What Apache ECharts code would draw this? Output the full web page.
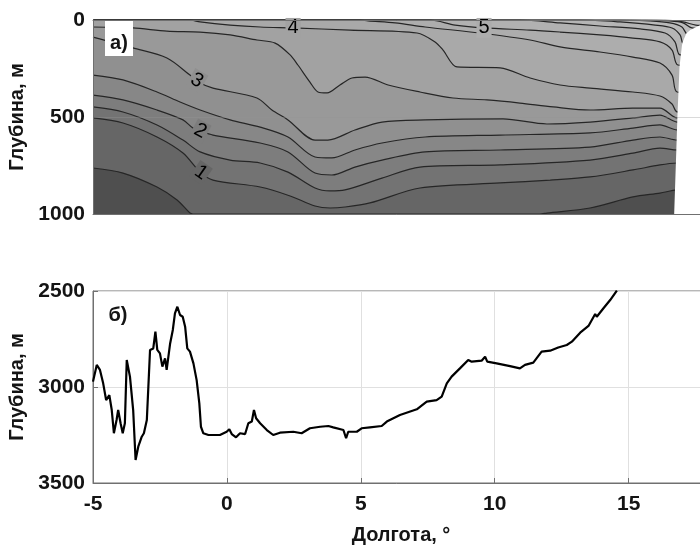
<!DOCTYPE html>
<html>
<head>
<meta charset="utf-8">
<script src="https://cdn.jsdelivr.net/npm/echarts@6/dist/echarts.min.js"></script>
<style>
  html, body { margin: 0; padding: 0; background: #fff; }
  #chart { width: 700px; height: 546px; }
</style>
</head>
<body>
<div id="chart"></div>
<script>
// ---- Temperature section: isotherm depths (m) along longitude (°) ----
const levels = [0.5, 1, 1.5, 2, 2.5, 3, 3.5, 4, 4.5, 5, 5.5, 6, 6.5, 7, 7.5];

const iso05 = [[-5,763],[-3.88,789],[-2.61,861],[-1.86,928],[-1.38,995],[-1.27,1000],[11.69,1000],[11.95,995],[13.56,969],[15.16,912],[16.17,892],[16.81,876],[18,870]];
const iso10 = [[-5,505],[-3.88,531],[-2.61,603],[-1.64,686],[-1.0,784],[-0.52,825],[1.24,861],[2.36,907],[3.29,959],[3.85,969],[4.41,964],[5.34,943],[7.21,866],[10.2,840],[12.07,825],[13.56,809],[15.16,773],[16.17,747],[16.81,737],[18,735]];
const iso15 = [[-5,448],[-3.88,474],[-2.61,541],[-1.64,619],[-1.0,680],[0.12,722],[1.24,737],[2.28,784],[3.29,866],[3.85,881],[4.41,876],[5.79,815],[7.21,758],[10.2,747],[13.56,722],[15.16,686],[16.17,660],[16.81,670],[18,672]];
const iso20 = [[-5,387],[-3.88,412],[-2.61,464],[-1.64,515],[-1.27,557],[-1.0,572],[-0.52,593],[1.24,634],[2.28,680],[3.29,789],[3.92,799],[4.78,758],[5.79,722],[7.4,680],[10.2,670],[13.56,655],[15.16,619],[16.17,603],[16.81,619],[18,620]];
const iso25 = [[-5,284],[-3.88,309],[-2.61,371],[-1.75,423],[-1.0,464],[0.12,515],[1.24,552],[2.28,603],[3.29,706],[3.92,711],[4.78,670],[5.79,634],[7.4,603],[10.2,593],[13.56,582],[15.16,557],[16.17,541],[16.81,567],[18,570]];
const iso30 = [[-5,88],[-3.51,144],[-2.24,196],[-1.38,284],[-1.0,325],[-0.52,351],[1.12,402],[1.68,464],[2.28,515],[3.29,619],[3.77,619],[4.78,567],[5.79,526],[7.4,515],[10.31,510],[11.95,536],[13.56,526],[15.16,505],[16.17,490],[16.81,526],[18,528]];
const iso35 = [[-5,36],[-3.51,41],[-2.24,57],[-1.0,62],[0.12,77],[1.12,103],[1.8,119],[2.36,180],[2.65,232],[3.1,320],[3.4,371],[3.74,376],[4.22,335],[4.67,299],[5.16,294],[6.02,335],[7.21,371],[8.44,402],[9.71,412],[10.94,428],[12.18,448],[13.56,464],[15.16,454],[16.17,454],[16.81,505],[18,507]];
const iso40 = [[-5,0],[-1.38,0],[-1.0,10],[0.12,26],[1.24,36],[2.47,41],[4.6,52],[7.1,67],[7.77,113],[8.07,155],[8.59,242],[10.2,247],[11.32,299],[12.44,335],[13.56,351],[15.16,371],[16.17,392],[16.62,433],[16.81,474],[18,480]];
const iso45 = [[-5,0],[4.97,0],[5.27,5],[6.28,15],[7.4,36],[9.45,67],[11.32,103],[12.44,139],[13.93,165],[15.16,191],[16.17,222],[16.62,284],[16.81,371],[18,380]];
const iso50 = [[-5,0],[7.58,0],[8.52,26],[9.6,41],[11.32,52],[12.44,62],[13.93,77],[15.16,93],[16.17,113],[16.62,155],[16.84,232],[18,240]];
const iso55 = [[-5,0],[10.94,0],[12.44,15],[13.93,31],[15.43,46],[16.36,67],[16.73,113],[16.92,180],[18,185]];
const iso60 = [[-5,0],[13.19,0],[14.68,10],[15.99,26],[16.62,41],[16.92,77],[17.07,129],[18,135]];
const iso65 = [[-5,0],[14.68,0],[15.8,5],[16.54,15],[16.99,36],[17.22,77],[18,80]];
const iso70 = [[-5,0],[15.61,0],[16.54,5],[17.03,15],[17.36,41],[18,45]];
const iso75 = [[-5,0],[16.36,0],[17.03,10],[17.51,26],[18,30]];

const isotherms = [iso05, iso10, iso15, iso20, iso25, iso30, iso35, iso40, iso45, iso50, iso55, iso60, iso65, iso70, iso75];

// Labelled isotherms and where their labels sit (longitude)
const labelLevels = [1, 2, 3, 4, 5];
const labelLon = [-0.97, -1.0, -1.12, 2.47, 9.6];

// Shelf / coast outline closing the section on the east (lon °, depth m)
const coastLon = [17.9, 17.67, 17.3, 17.15, 17.0, 16.9, 16.82, 16.78, 16.7];
const coastDepth = [0, 26, 52, 70, 120, 240, 500, 670, 1000];

// ---- Bottom depth along the section ----
const bathLon = [-5.00,-4.86,-4.74,-4.62,-4.51,-4.47,-4.39,-4.30,-4.22,-4.12,-4.06,-3.97,-3.89,-3.81,-3.74,-3.62,-3.50,-3.41,-3.31,-3.18,-3.10,-2.99,-2.87,-2.75,-2.67,-2.60,-2.50,-2.41,-2.31,-2.25,-2.12,-2.02,-1.94,-1.85,-1.75,-1.65,-1.56,-1.48,-1.38,-1.25,-1.13,-1.03,-0.97,-0.88,-0.69,-0.26,-0.01,0.09,0.18,0.34,0.49,0.68,0.80,0.93,1.01,1.09,1.24,1.49,1.73,1.98,2.48,2.79,3.10,3.48,3.79,3.97,4.35,4.45,4.53,4.60,4.85,5.03,5.34,5.78,5.97,6.46,7.09,7.46,7.83,8.02,8.21,8.39,8.70,9.01,9.14,9.51,9.64,9.72,10.07,10.57,10.94,11.13,11.44,11.75,12.07,12.37,12.69,12.88,13.19,13.50,13.75,13.81,14.06,14.31,14.56];
const bathDepth = [2972,2885,2911,2981,3068,3076,3042,3120,3241,3172,3120,3189,3241,3189,2859,2946,3120,3380,3311,3259,3241,3172,2807,2799,2712,2807,2825,2894,2851,2911,2773,2703,2616,2582,2625,2634,2686,2799,2816,2877,2964,3085,3207,3241,3250,3250,3233,3220,3245,3262,3241,3245,3189,3180,3120,3163,3189,3224,3250,3238,3233,3241,3215,3207,3203,3210,3224,3267,3233,3224,3233,3215,3210,3203,3180,3146,3116,3076,3068,3050,2981,2946,2903,2859,2868,2863,2842,2868,2877,2891,2903,2885,2873,2816,2811,2794,2781,2764,2717,2682,2620,2634,2590,2547,2498];

// ---- Styling ----
const FONT = "'Liberation Sans', Arial, sans-serif";
const frameColor = '#707070';
// fill colour of the band just below (colder than) each isotherm
const bandColors = ['#4f4f4f','#666666','#737373','#7d7d7d','#878787','#909090','#999999','#a2a2a2','#a9a9a9','#adadad','#b1b1b1','#b5b5b5','#b9b9b9','#bdbdbd','#c1c1c1'];
const warmestColor = '#c5c5c5';
const labelRotate = { 1: -35, 2: -28, 3: -30, 4: 0, 5: 0 };

function depthAt(line, lon) {
  for (let k = 1; k < line.length; k++) {
    const a = line[k - 1], b = line[k];
    if (lon >= a[0] && lon <= b[0]) {
      const t = (lon - a[0]) / (b[0] - a[0]);
      return a[1] + t * (b[1] - a[1]);
    }
  }
  return line[line.length - 1][1];
}

const series = [];

// warmest water fills the whole section first
series.push({
  type: 'line', xAxisIndex: 0, yAxisIndex: 0, silent: true, z: 1,
  data: [[-5, 0], [18, 0]], symbol: 'none',
  lineStyle: { width: 0, opacity: 0 },
  areaStyle: { color: warmestColor, opacity: 1, origin: 'end' }
});
// then each colder band, warm to cold, filled from its isotherm to the bottom
for (let i = levels.length - 1; i >= 0; i--) {
  series.push({
    type: 'line', xAxisIndex: 0, yAxisIndex: 0, silent: true, z: 1,
    data: isotherms[i], smooth: 0.3, symbol: 'none',
    lineStyle: { width: 0, opacity: 0 },
    areaStyle: { color: bandColors[i], opacity: 1, origin: 'end' }
  });
}
// isotherm lines
levels.forEach((lv, i) => {
  series.push({
    type: 'line', xAxisIndex: 0, yAxisIndex: 0, silent: true, z: 2,
    data: isotherms[i], smooth: 0.3, symbol: 'none',
    lineStyle: { color: '#262626', width: 1.2 }
  });
});
// isotherm labels
series.push({
  type: 'scatter', xAxisIndex: 0, yAxisIndex: 0, silent: true, z: 3,
  symbolSize: 1, itemStyle: { color: 'rgba(0,0,0,0)' },
  label: { show: true, position: 'inside', fontFamily: FONT, fontSize: 20, color: '#000' },
  data: labelLevels.map((lv, j) => {
    const idx = levels.indexOf(lv);
    return {
      value: [labelLon[j], depthAt(isotherms[idx], labelLon[j])],
      label: {
        show: true, position: 'inside', formatter: String(lv),
        rotate: labelRotate[lv],
        fontFamily: FONT, fontSize: 20, color: '#000', opacity: 1,
        backgroundColor: bandColors[idx], padding: [0, 2, 0, 2]
      }
    };
  })
});
// land / shelf on the eastern end
series.push({
  type: 'custom', xAxisIndex: 0, yAxisIndex: 0, silent: true, z: 5,
  data: [0],
  renderItem: function (params, api) {
    const pts = coastLon.map((lon, k) => api.coord([lon, coastDepth[k]]));
    pts.push(api.coord([22, 1000]), api.coord([22, 0]));
    return { type: 'polygon', shape: { points: pts }, style: { fill: '#ffffff' } };
  }
});
// bottom profile
series.push({
  type: 'line', xAxisIndex: 2, yAxisIndex: 1, silent: true, z: 2,
  data: bathLon.map((lon, k) => [lon, bathDepth[k]]),
  symbol: 'none', lineStyle: { color: '#000', width: 2.2 }
});

const plain = v => String(v);
const tickFont = { fontFamily: FONT, fontSize: 21, fontWeight: 'bold', color: '#141414' };
const nameFont = { fontFamily: FONT, fontSize: 20, fontWeight: 'bold', color: '#141414' };

const option = {
  animation: false,
  backgroundColor: '#fff',
  grid: [
    { left: 93, right: -9, top: 20, height: 194, containLabel: false, outerBoundsMode: 'none' },
    { left: 93, right: -9, top: 291, height: 192, containLabel: false, outerBoundsMode: 'none',
      show: true, borderColor: frameColor, borderWidth: 1 }
  ],
  xAxis: [
    { gridIndex: 0, type: 'value', min: -5, max: 18, interval: 5, position: 'bottom', z: 10,
      axisLine: { show: true, onZero: false, lineStyle: { color: frameColor, width: 1 } },
      axisTick: { show: false }, axisLabel: { show: false }, splitLine: { show: false } },
    { gridIndex: 0, type: 'value', min: -5, max: 18, interval: 5, position: 'top', z: 10,
      axisLine: { show: true, onZero: false, lineStyle: { color: frameColor, width: 1 } },
      axisTick: { show: false }, axisLabel: { show: false }, splitLine: { show: false } },
    { gridIndex: 1, type: 'value', min: -5, max: 18, interval: 5, position: 'bottom',
      axisLine: { show: true, onZero: false, lineStyle: { color: frameColor, width: 1 } },
      axisTick: { show: true, inside: true, length: 5, lineStyle: { color: frameColor } },
      axisLabel: Object.assign({ margin: 11, showMaxLabel: false, formatter: plain }, tickFont),
      splitLine: { show: true, lineStyle: { color: '#e0e0e0', width: 1 } },
      name: 'Долгота, °', nameLocation: 'middle', nameGap: 42, nameTextStyle: nameFont }
  ],
  yAxis: [
    { gridIndex: 0, type: 'value', inverse: true, min: 0, max: 1000, interval: 500, z: 10,
      axisLine: { show: true, onZero: false, lineStyle: { color: frameColor, width: 1 } },
      axisTick: { show: false },
      axisLabel: Object.assign({ margin: 8, formatter: plain }, tickFont),
      splitLine: { show: true, lineStyle: { color: 'rgba(150,150,150,0.35)', width: 1 } },
      name: 'Глубина, м', nameLocation: 'middle', nameGap: 51, nameRotate: 90, nameTextStyle: nameFont },
    { gridIndex: 1, type: 'value', inverse: true, min: 2500, max: 3500, interval: 500,
      axisLine: { show: true, onZero: false, lineStyle: { color: frameColor, width: 1 } },
      axisTick: { show: true, inside: true, length: 5, lineStyle: { color: frameColor } },
      axisLabel: Object.assign({ margin: 8, formatter: plain }, tickFont),
      splitLine: { show: true, lineStyle: { color: '#e0e0e0', width: 1 } },
      name: 'Глубина, м', nameLocation: 'middle', nameGap: 51, nameRotate: 90, nameTextStyle: nameFont }
  ],
  graphic: [
    { type: 'rect', z: 100, shape: { x: 105, y: 21, width: 28, height: 35 }, style: { fill: '#fff' } },
    { type: 'text', z: 101, x: 119, y: 43,
      style: { text: 'а)', font: 'bold 20px ' + FONT, fill: '#141414', align: 'center', verticalAlign: 'middle' } },
    { type: 'text', z: 101, x: 118, y: 315,
      style: { text: 'б)', font: 'bold 20px ' + FONT, fill: '#141414', align: 'center', verticalAlign: 'middle' } }
  ],
  series: series
};

const chart = echarts.init(document.getElementById('chart'));
chart.setOption(option);
</script>
</body>
</html>
